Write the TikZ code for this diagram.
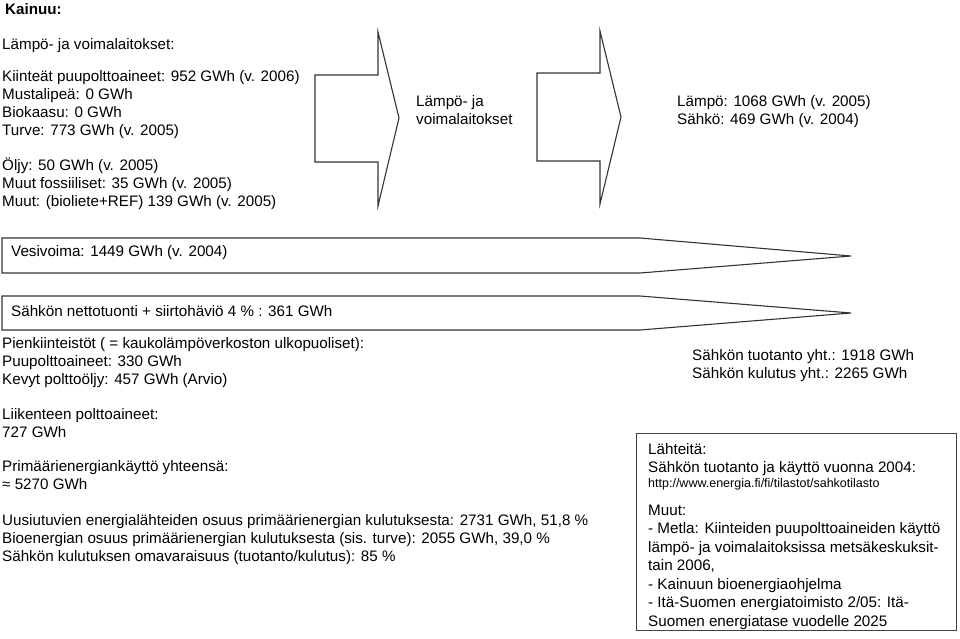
\documentclass[tikz,border=0pt]{standalone}
\usepackage{fontspec}
\setmainfont{Liberation Sans}

\newcommand\tallstrut{\rule{0pt}{14.5pt}}

\tikzset{
  txt/.style={anchor=north west, inner sep=0pt, align=left,
    font=\fontsize{15.2}{18}\selectfont, execute at begin node=\tallstrut},
  blockarrow/.style={draw=black!80, line width=1.1pt, line join=miter},
}

\begin{document}
\begin{tikzpicture}[x=1pt, y=-1pt]
  \useasboundingbox (0,0) rectangle (960,639);
  \def\lo{14.5}

  % otsikko
  \node[txt, font=\bfseries\fontsize{15.2}{18}\selectfont] (title) at (5,14-\lo) {Kainuu:};

  % lampo- ja voimalaitokset
  \node[txt] (plantfuels) at (2,53-\lo) {L\"amp\"o- ja voimalaitokset:\\[14pt]
    Kiinte\"at puupolttoaineet: 952 GWh (v. 2006)\\
    Mustalipe\"a: 0 GWh\\
    Biokaasu: 0 GWh\\
    Turve: 773 GWh (v. 2005)\\[17pt]
    \"Oljy: 50 GWh (v. 2005)\\
    Muut fossiiliset: 35 GWh (v. 2005)\\
    Muut: (bioliete+REF) 139 GWh (v. 2005)};

  % nuolet voimalaitoksiin ja ulos
  \draw[blockarrow] (315,75) -- (378,75) -- (378,32) -- (399,118)
    -- (378,206) -- (378,162) -- (315,162) -- cycle;
  \node[txt] (plant) at (416,110-\lo) {L\"amp\"o- ja\\voimalaitokset};
  \draw[blockarrow] (537,73) -- (600,73) -- (600,31) -- (621,117)
    -- (600,204) -- (600,161) -- (537,161) -- cycle;
  \node[txt] (output) at (677,110-\lo) {L\"amp\"o: 1068 GWh (v. 2005)\\S\"ahk\"o: 469 GWh (v. 2004)};

  % vesivoima ja tuonti
  \draw[blockarrow] (2,238) -- (640,238) -- (851,256) -- (640,273) -- (2,273) -- cycle;
  \node[txt] (hydro) at (11,256-\lo) {Vesivoima: 1449 GWh (v. 2004)};
  \draw[blockarrow] (2,296) -- (640,296) -- (851,313) -- (640,330) -- (2,330) -- cycle;
  \node[txt] (import) at (11,316-\lo) {S\"ahk\"on nettotuonti + siirtoh\"avi\"o 4 \% : 361 GWh};

  % muut tiedot
  \node[txt] (other) at (2,352-\lo) {Pienkiinteist\"ot ( = kaukol\"amp\"overkoston ulkopuoliset):\\
    Puupolttoaineet: 330 GWh\\
    Kevyt poltto\"oljy: 457 GWh (Arvio)\\[17pt]
    Liikenteen polttoaineet:\\
    727 GWh\\[16pt]
    Prim\"a\"arienergiank\"aytt\"o yhteens\"a:\\
    ≈ 5270 GWh\\[18pt]
    Uusiutuvien energial\"ahteiden osuus prim\"a\"arienergian kulutuksesta: 2731 GWh, 51,8 \%\\
    Bioenergian osuus prim\"a\"arienergian kulutuksesta (sis. turve): 2055 GWh, 39,0 \%\\
    S\"ahk\"on kulutuksen omavaraisuus (tuotanto/kulutus): 85 \%};
  \node[txt] (totals) at (692,364-\lo) {S\"ahk\"on tuotanto yht.: 1918 GWh\\S\"ahk\"on kulutus yht.: 2265 GWh};

  % lahteet
  \draw[draw=black!75, line width=0.9pt] (636,433) rectangle (956,630);
  \node[txt] (sources) at (648,458-\lo) {L\"ahteit\"a:\\S\"ahk\"on tuotanto ja k\"aytt\"o vuonna 2004:};
  \node[anchor=base west, inner sep=0pt, font=\fontsize{12.5}{14}\selectfont] (url)
    at (648,487) {http://www.energia.fi/fi/tilastot/sahkotilasto};
  \node[txt, font=\fontsize{15.2}{18.5}\selectfont] (refs) at (648,519-\lo) {Muut:\\
    - Metla: Kiinteiden puupolttoaineiden k\"aytt\"o\\
    l\"amp\"o- ja voimalaitoksissa mets\"akeskuksit-\\
    tain 2006,\\
    - Kainuun bioenergiaohjelma\\
    - It\"a-Suomen energiatoimisto 2/05: It\"a-\\
    Suomen energiatase vuodelle 2025};
\end{tikzpicture}
\end{document}
